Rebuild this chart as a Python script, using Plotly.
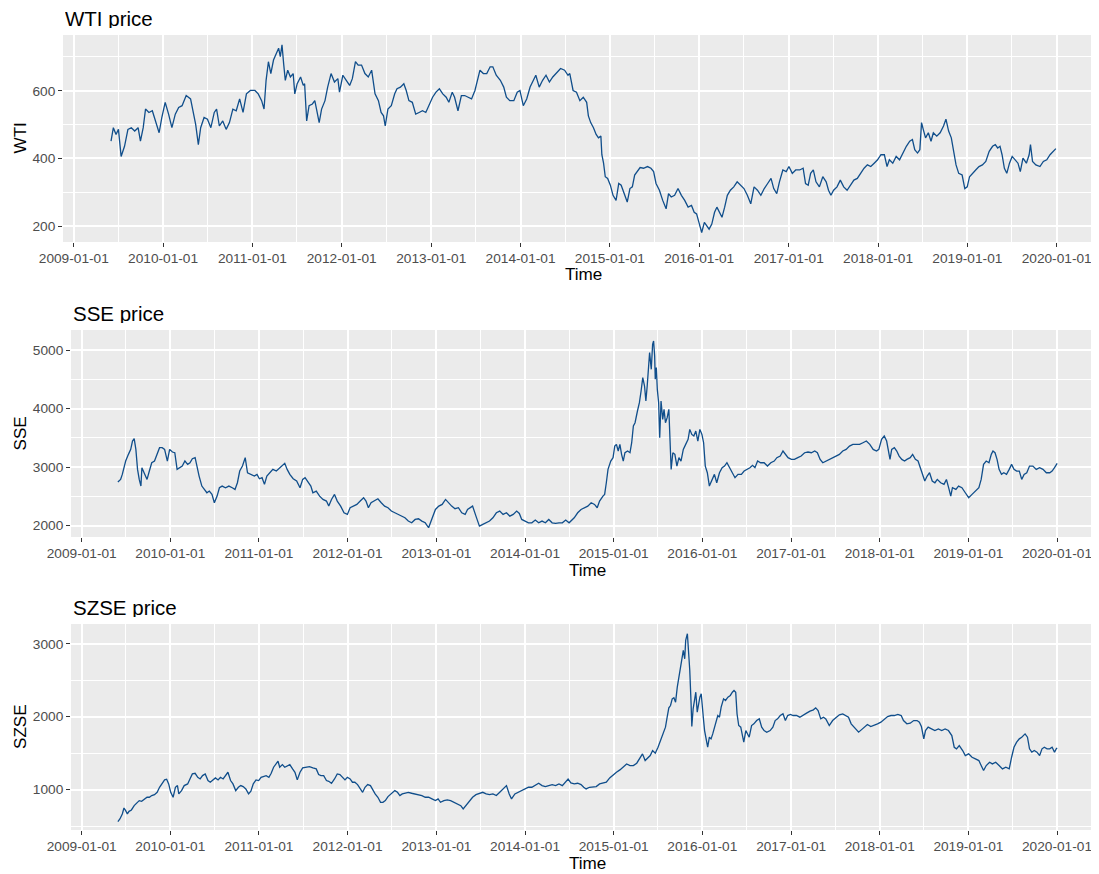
import numpy as np
import pandas as pd
import plotly.graph_objects as go

# ---- data (time in decimal years) ----
wti_t = [
    2009.417, 2009.443, 2009.473, 2009.500, 2009.530, 2009.568, 2009.606, 2009.644, 2009.682, 2009.720,
    2009.746, 2009.777, 2009.803, 2009.841, 2009.879, 2009.917, 2009.955, 2009.985, 2010.023, 2010.061,
    2010.098, 2010.136, 2010.174, 2010.212, 2010.258, 2010.307, 2010.345, 2010.364, 2010.394, 2010.420,
    2010.458, 2010.496, 2010.534, 2010.572, 2010.598, 2010.629, 2010.667, 2010.705, 2010.742, 2010.780,
    2010.818, 2010.856, 2010.894, 2010.932, 2010.977, 2011.027, 2011.064, 2011.102, 2011.129, 2011.152,
    2011.178, 2011.205, 2011.235, 2011.265, 2011.292, 2011.311, 2011.330, 2011.348, 2011.367, 2011.394,
    2011.424, 2011.455, 2011.473, 2011.500, 2011.538, 2011.568, 2011.583, 2011.606, 2011.633, 2011.670,
    2011.697, 2011.720, 2011.746, 2011.773, 2011.811, 2011.841, 2011.879, 2011.917, 2011.955, 2011.973,
    2012.011, 2012.049, 2012.087, 2012.117, 2012.152, 2012.182, 2012.220, 2012.258, 2012.295, 2012.333,
    2012.371, 2012.409, 2012.439, 2012.466, 2012.485, 2012.515, 2012.553, 2012.591, 2012.617, 2012.655,
    2012.693, 2012.720, 2012.750, 2012.788, 2012.826, 2012.864, 2012.902, 2012.939, 2012.977, 2013.015,
    2013.053, 2013.091, 2013.129, 2013.167, 2013.197, 2013.235, 2013.261, 2013.299, 2013.337, 2013.375,
    2013.413, 2013.451, 2013.489, 2013.515, 2013.545, 2013.583, 2013.621, 2013.659, 2013.689, 2013.727,
    2013.773, 2013.811, 2013.841, 2013.879, 2013.924, 2013.962, 2013.992, 2014.030, 2014.068, 2014.106,
    2014.144, 2014.170, 2014.208, 2014.246, 2014.284, 2014.322, 2014.360, 2014.398, 2014.447, 2014.492,
    2014.530, 2014.550, 2014.587, 2014.625, 2014.663, 2014.701, 2014.739, 2014.758, 2014.784, 2014.815,
    2014.845, 2014.871, 2014.898, 2014.909, 2014.928, 2014.947, 2014.974, 2015.004, 2015.034, 2015.068,
    2015.098, 2015.125, 2015.155, 2015.193, 2015.223, 2015.250, 2015.276, 2015.307, 2015.337, 2015.375,
    2015.420, 2015.458, 2015.488, 2015.515, 2015.553, 2015.590, 2015.628, 2015.655, 2015.685, 2015.723,
    2015.761, 2015.799, 2015.836, 2015.874, 2015.912, 2015.942, 2015.969, 2015.995, 2016.026, 2016.056,
    2016.083, 2016.109, 2016.139, 2016.170, 2016.196, 2016.223, 2016.253, 2016.283, 2016.313, 2016.347,
    2016.385, 2016.423, 2016.461, 2016.499, 2016.537, 2016.575, 2016.612, 2016.650, 2016.688, 2016.726,
    2016.764, 2016.802, 2016.832, 2016.866, 2016.896, 2016.934, 2016.972, 2017.002, 2017.040, 2017.078,
    2017.123, 2017.161, 2017.188, 2017.218, 2017.245, 2017.275, 2017.305, 2017.343, 2017.381, 2017.419,
    2017.445, 2017.472, 2017.502, 2017.540, 2017.577, 2017.615, 2017.653, 2017.691, 2017.729, 2017.767,
    2017.805, 2017.843, 2017.880, 2017.918, 2017.956, 2017.994, 2018.032, 2018.070, 2018.100, 2018.126,
    2018.164, 2018.202, 2018.240, 2018.278, 2018.316, 2018.354, 2018.384, 2018.410, 2018.441, 2018.467,
    2018.486, 2018.505, 2018.531, 2018.562, 2018.592, 2018.618, 2018.656, 2018.694, 2018.732, 2018.759,
    2018.789, 2018.819, 2018.846, 2018.872, 2018.902, 2018.940, 2018.970, 2018.997, 2019.023, 2019.054,
    2019.092, 2019.129, 2019.167, 2019.205, 2019.243, 2019.281, 2019.311, 2019.338, 2019.364, 2019.387,
    2019.413, 2019.440, 2019.470, 2019.500, 2019.538, 2019.565, 2019.591, 2019.621, 2019.659, 2019.690,
    2019.705, 2019.728, 2019.765, 2019.811, 2019.849, 2019.887, 2019.924, 2019.955, 2019.989,
]
wti_v = [
    451, 491, 471, 486, 406, 436, 486, 491, 481, 491,
    451, 491, 546, 536, 541, 511, 476, 521, 566, 531,
    491, 531, 551, 556, 586, 576, 526, 501, 441, 491,
    521, 516, 491, 536, 546, 496, 511, 486, 506, 546,
    541, 576, 536, 591, 601, 601, 591, 571, 546, 631,
    686, 651, 691, 711, 726, 701, 736, 681, 631, 661,
    641, 651, 591, 621, 641, 616, 621, 511, 556, 561,
    571, 541, 506, 546, 571, 611, 651, 626, 636, 596,
    646, 631, 616, 636, 686, 676, 676, 651, 641, 661,
    591, 571, 536, 526, 496, 546, 556, 591, 606, 611,
    621, 601, 571, 566, 531, 536, 541, 536, 561, 581,
    596, 606, 591, 581, 566, 596, 581, 541, 586, 586,
    581, 576, 601, 631, 661, 651, 651, 671, 671, 646,
    631, 611, 581, 571, 571, 596, 601, 556, 576, 611,
    631, 646, 611, 631, 646, 626, 641, 651, 666, 661,
    646, 651, 601, 596, 571, 581, 566, 526, 506, 491,
    471, 461, 466, 411, 386, 346, 341, 321, 291, 276,
    326, 321, 301, 271, 311, 316, 351, 361, 373, 371,
    376, 371, 361, 326, 306, 276, 251, 296, 286, 291,
    311, 291, 276, 256, 261, 241, 236, 211, 181, 211,
    201, 191, 206, 241, 256, 241, 226, 256, 291, 306,
    316, 331, 321, 311, 291, 266, 316, 306, 291, 311,
    326, 341, 311, 296, 331, 366, 361, 376, 356, 366,
    366, 371, 326, 321, 356, 366, 331, 316, 346, 331,
    306, 291, 306, 316, 336, 316, 306, 321, 336, 341,
    356, 371, 381, 376, 386, 396, 411, 411, 376, 396,
    386, 406, 396, 416, 436, 451, 456, 426, 416, 426,
    506, 486, 461, 476, 451, 476, 466, 476, 496, 516,
    481, 461, 416, 381, 356, 351, 311, 316, 346, 356,
    366, 376, 381, 391, 421, 436, 441, 431, 436, 411,
    371, 356, 386, 406, 396, 386, 361, 401, 386, 411,
    441, 391, 381, 376, 391, 396, 411, 421, 429,
]

sse_t = [
    2009.408, 2009.439, 2009.458, 2009.496, 2009.527, 2009.553, 2009.573, 2009.592, 2009.611, 2009.630,
    2009.649, 2009.668, 2009.679, 2009.706, 2009.737, 2009.763, 2009.790, 2009.821, 2009.851, 2009.878,
    2009.908, 2009.935, 2009.966, 2009.992, 2010.023, 2010.050, 2010.076, 2010.107, 2010.134, 2010.164,
    2010.195, 2010.221, 2010.248, 2010.279, 2010.298, 2010.324, 2010.355, 2010.385, 2010.412, 2010.439,
    2010.469, 2010.496, 2010.527, 2010.553, 2010.584, 2010.622, 2010.660, 2010.698, 2010.729, 2010.756,
    2010.782, 2010.813, 2010.844, 2010.870, 2010.908, 2010.947, 2010.977, 2011.004, 2011.034, 2011.061,
    2011.088, 2011.118, 2011.156, 2011.195, 2011.233, 2011.271, 2011.290, 2011.317, 2011.347, 2011.385,
    2011.424, 2011.462, 2011.492, 2011.519, 2011.557, 2011.584, 2011.607, 2011.645, 2011.683, 2011.721,
    2011.760, 2011.786, 2011.817, 2011.851, 2011.882, 2011.920, 2011.958, 2011.996, 2012.027, 2012.065,
    2012.103, 2012.141, 2012.179, 2012.206, 2012.233, 2012.263, 2012.302, 2012.340, 2012.378, 2012.416,
    2012.454, 2012.492, 2012.531, 2012.569, 2012.607, 2012.645, 2012.683, 2012.721, 2012.760, 2012.798,
    2012.836, 2012.874, 2012.912, 2012.950, 2012.989, 2013.027, 2013.065, 2013.103, 2013.134, 2013.172,
    2013.210, 2013.248, 2013.286, 2013.324, 2013.351, 2013.382, 2013.408, 2013.446, 2013.485, 2013.523,
    2013.561, 2013.599, 2013.637, 2013.676, 2013.714, 2013.752, 2013.790, 2013.828, 2013.866, 2013.905,
    2013.935, 2013.962, 2014.000, 2014.038, 2014.076, 2014.115, 2014.153, 2014.191, 2014.229, 2014.267,
    2014.305, 2014.344, 2014.382, 2014.420, 2014.458, 2014.496, 2014.554, 2014.593, 2014.631, 2014.669,
    2014.707, 2014.745, 2014.783, 2014.813, 2014.840, 2014.878, 2014.897, 2014.916, 2014.935, 2014.966,
    2014.992, 2015.011, 2015.030, 2015.050, 2015.069, 2015.088, 2015.107, 2015.126, 2015.156, 2015.183,
    2015.202, 2015.221, 2015.240, 2015.267, 2015.289, 2015.308, 2015.327, 2015.347, 2015.362, 2015.377,
    2015.392, 2015.404, 2015.423, 2015.438, 2015.449, 2015.461, 2015.468, 2015.480, 2015.491, 2015.506,
    2015.518, 2015.533, 2015.552, 2015.567, 2015.583, 2015.602, 2015.621, 2015.632, 2015.647, 2015.666,
    2015.689, 2015.712, 2015.735, 2015.758, 2015.784, 2015.811, 2015.838, 2015.857, 2015.880, 2015.903,
    2015.925, 2015.948, 2015.971, 2015.994, 2016.013, 2016.032, 2016.055, 2016.078, 2016.108, 2016.135,
    2016.161, 2016.192, 2016.222, 2016.249, 2016.276, 2016.306, 2016.337, 2016.367, 2016.401, 2016.439,
    2016.470, 2016.504, 2016.535, 2016.565, 2016.592, 2016.622, 2016.656, 2016.695, 2016.733, 2016.771,
    2016.809, 2016.839, 2016.877, 2016.908, 2016.935, 2016.965, 2017.003, 2017.037, 2017.075, 2017.113,
    2017.152, 2017.190, 2017.228, 2017.266, 2017.296, 2017.327, 2017.357, 2017.391, 2017.430, 2017.468,
    2017.506, 2017.544, 2017.582, 2017.620, 2017.658, 2017.696, 2017.734, 2017.772, 2017.810, 2017.848,
    2017.887, 2017.925, 2017.963, 2017.989, 2018.020, 2018.050, 2018.077, 2018.096, 2018.115, 2018.134,
    2018.164, 2018.191, 2018.218, 2018.248, 2018.279, 2018.305, 2018.343, 2018.370, 2018.401, 2018.431,
    2018.458, 2018.477, 2018.507, 2018.534, 2018.561, 2018.591, 2018.621, 2018.648, 2018.686, 2018.724,
    2018.751, 2018.781, 2018.800, 2018.819, 2018.858, 2018.888, 2018.926, 2018.964, 2019.002, 2019.040,
    2019.078, 2019.117, 2019.143, 2019.170, 2019.200, 2019.231, 2019.257, 2019.276, 2019.299, 2019.322,
    2019.345, 2019.372, 2019.398, 2019.429, 2019.459, 2019.486, 2019.513, 2019.543, 2019.573, 2019.600,
    2019.627, 2019.657, 2019.688, 2019.726, 2019.764, 2019.802, 2019.840, 2019.878, 2019.916, 2019.943,
    2019.970, 2020.000,
]
sse_v = [
    2744, 2789, 2875, 3103, 3217, 3302, 3445, 3485, 3302, 2960,
    2789, 2675, 2989, 2903, 2789, 2932, 3074, 3103, 3217, 3331,
    3331, 3302, 3103, 3302, 3257, 3245, 2960, 2989, 3017, 3103,
    3046, 3074, 3143, 3160, 3017, 2846, 2675, 2618, 2561, 2590,
    2533, 2390, 2504, 2647, 2675, 2647, 2675, 2647, 2618, 2732,
    2932, 3017, 3160, 2903, 2875, 2846, 2875, 2800, 2818, 2704,
    2846, 2903, 2960, 2932, 2989, 3046, 3063, 2960, 2875, 2800,
    2761, 2647, 2789, 2818, 2732, 2675, 2561, 2590, 2504, 2447,
    2419, 2333, 2447, 2533, 2419, 2333, 2219, 2191, 2305, 2333,
    2362, 2419, 2476, 2419, 2305, 2390, 2419, 2459, 2390, 2333,
    2305, 2248, 2219, 2191, 2162, 2134, 2077, 2048, 2105, 2117,
    2077, 2048, 1963, 2134, 2276, 2333, 2362, 2447, 2390, 2333,
    2288, 2305, 2219, 2191, 2276, 2305, 2333, 2162, 1991, 2020,
    2048, 2077, 2134, 2219, 2248, 2191, 2219, 2162, 2191, 2248,
    2208, 2105, 2077, 2048, 2048, 2094, 2048, 2077, 2048, 2105,
    2048, 2037, 2048, 2048, 2094, 2048, 2134, 2219, 2276, 2305,
    2333, 2390, 2362, 2305, 2419, 2504, 2533, 2732, 2960, 3103,
    3160, 3359, 3388, 3274, 3388, 3217, 3103, 3245, 3274, 3245,
    3416, 3701, 3758, 3958, 4100, 4300, 4528, 4385, 4129, 4385,
    4727, 4955, 4670, 5098, 5155, 4898, 4500, 4699, 4328, 4100,
    3502, 4129, 3815, 3986, 3758, 3844, 3986, 3530, 2960, 3245,
    3217, 3017, 3160, 3103, 3302, 3388, 3473, 3644, 3558, 3530,
    3616, 3445, 3644, 3558, 3416, 3017, 2903, 2675, 2789, 2875,
    2732, 2903, 2989, 3017, 3074, 2989, 2903, 2818, 2875, 2875,
    2932, 2960, 2989, 3029, 2989, 3103, 3074, 3074, 3017, 3074,
    3103, 3160, 3188, 3274, 3217, 3160, 3131, 3131, 3160, 3188,
    3245, 3257, 3245, 3274, 3245, 3131, 3074, 3103, 3131, 3160,
    3188, 3217, 3274, 3302, 3359, 3388, 3388, 3388, 3416, 3445,
    3388, 3302, 3274, 3302, 3473, 3530, 3445, 3274, 3131, 3302,
    3331, 3274, 3188, 3131, 3103, 3131, 3160, 3217, 3131, 3103,
    2989, 2875, 2761, 2846, 2903, 2761, 2732, 2789, 2732, 2704,
    2789, 2618, 2504, 2647, 2618, 2675, 2647, 2561, 2476, 2533,
    2590, 2647, 2789, 3046, 3103, 3074, 3217, 3274, 3245, 3131,
    2960, 2875, 2903, 2875, 2960, 3046, 2960, 2932, 2932, 2789,
    2875, 2903, 3017, 3017, 2960, 2989, 2960, 2903, 2903, 2932,
    2989, 3063,
]

szse_t = [
    2009.408, 2009.431, 2009.458, 2009.477, 2009.496, 2009.515, 2009.534, 2009.561, 2009.592, 2009.622,
    2009.649, 2009.676, 2009.706, 2009.737, 2009.763, 2009.790, 2009.821, 2009.851, 2009.878, 2009.905,
    2009.935, 2009.958, 2009.981, 2010.004, 2010.031, 2010.057, 2010.080, 2010.095, 2010.126, 2010.156,
    2010.195, 2010.221, 2010.248, 2010.279, 2010.309, 2010.336, 2010.363, 2010.393, 2010.424, 2010.450,
    2010.477, 2010.508, 2010.538, 2010.565, 2010.595, 2010.622, 2010.649, 2010.679, 2010.706, 2010.737,
    2010.767, 2010.794, 2010.821, 2010.851, 2010.882, 2010.908, 2010.935, 2010.966, 2010.996, 2011.023,
    2011.050, 2011.080, 2011.111, 2011.137, 2011.164, 2011.195, 2011.214, 2011.233, 2011.263, 2011.290,
    2011.317, 2011.347, 2011.378, 2011.405, 2011.431, 2011.462, 2011.492, 2011.531, 2011.569, 2011.607,
    2011.645, 2011.672, 2011.698, 2011.729, 2011.760, 2011.786, 2011.817, 2011.851, 2011.882, 2011.912,
    2011.939, 2011.969, 2011.996, 2012.027, 2012.053, 2012.080, 2012.111, 2012.141, 2012.168, 2012.195,
    2012.225, 2012.256, 2012.282, 2012.309, 2012.340, 2012.370, 2012.397, 2012.424, 2012.454, 2012.492,
    2012.531, 2012.561, 2012.588, 2012.615, 2012.645, 2012.683, 2012.721, 2012.760, 2012.798, 2012.836,
    2012.874, 2012.912, 2012.950, 2012.989, 2013.019, 2013.046, 2013.084, 2013.122, 2013.160, 2013.198,
    2013.237, 2013.275, 2013.302, 2013.332, 2013.370, 2013.408, 2013.446, 2013.485, 2013.523, 2013.561,
    2013.599, 2013.637, 2013.676, 2013.714, 2013.752, 2013.790, 2013.821, 2013.847, 2013.885, 2013.924,
    2013.962, 2014.000, 2014.038, 2014.076, 2014.115, 2014.153, 2014.191, 2014.229, 2014.267, 2014.305,
    2014.344, 2014.382, 2014.420, 2014.458, 2014.485, 2014.516, 2014.554, 2014.593, 2014.631, 2014.661,
    2014.688, 2014.726, 2014.764, 2014.802, 2014.840, 2014.878, 2014.916, 2014.954, 2014.992, 2015.030,
    2015.069, 2015.107, 2015.145, 2015.183, 2015.221, 2015.259, 2015.297, 2015.324, 2015.354, 2015.385,
    2015.411, 2015.438, 2015.468, 2015.499, 2015.526, 2015.552, 2015.583, 2015.602, 2015.621, 2015.640,
    2015.659, 2015.678, 2015.697, 2015.716, 2015.735, 2015.754, 2015.773, 2015.784, 2015.800, 2015.811,
    2015.830, 2015.842, 2015.849, 2015.857, 2015.872, 2015.880, 2015.895, 2015.910, 2015.925, 2015.941,
    2015.956, 2015.971, 2015.986, 2016.002, 2016.013, 2016.024, 2016.040, 2016.059, 2016.078, 2016.097,
    2016.116, 2016.135, 2016.154, 2016.173, 2016.192, 2016.211, 2016.238, 2016.260, 2016.287, 2016.314,
    2016.337, 2016.356, 2016.375, 2016.390, 2016.409, 2016.432, 2016.451, 2016.466, 2016.489, 2016.508,
    2016.527, 2016.554, 2016.580, 2016.611, 2016.641, 2016.668, 2016.695, 2016.725, 2016.763, 2016.794,
    2016.820, 2016.847, 2016.877, 2016.908, 2016.935, 2016.961, 2016.992, 2017.022, 2017.060, 2017.098,
    2017.136, 2017.174, 2017.213, 2017.251, 2017.277, 2017.304, 2017.334, 2017.365, 2017.391, 2017.430,
    2017.468, 2017.506, 2017.544, 2017.582, 2017.620, 2017.647, 2017.677, 2017.708, 2017.734, 2017.761,
    2017.791, 2017.822, 2017.860, 2017.898, 2017.936, 2017.974, 2018.012, 2018.050, 2018.088, 2018.126,
    2018.164, 2018.203, 2018.241, 2018.267, 2018.305, 2018.343, 2018.382, 2018.420, 2018.446, 2018.469,
    2018.496, 2018.515, 2018.545, 2018.583, 2018.621, 2018.660, 2018.698, 2018.736, 2018.774, 2018.812,
    2018.839, 2018.865, 2018.896, 2018.934, 2018.964, 2019.002, 2019.040, 2019.078, 2019.117, 2019.143,
    2019.170, 2019.200, 2019.238, 2019.269, 2019.307, 2019.345, 2019.383, 2019.421, 2019.459, 2019.486,
    2019.513, 2019.543, 2019.573, 2019.600, 2019.638, 2019.665, 2019.688, 2019.714, 2019.741, 2019.772,
    2019.802, 2019.829, 2019.855, 2019.886, 2019.916, 2019.943, 2019.970, 2019.989, 2020.000,
]
szse_v = [
    561, 597, 666, 748, 712, 666, 702, 721, 780, 812,
    849, 840, 872, 895, 895, 918, 931, 963, 1032, 1078,
    1133, 1142, 1078, 963, 895, 1032, 1055, 941, 986, 1055,
    1078, 1146, 1215, 1224, 1169, 1146, 1192, 1215, 1124, 1101,
    1124, 1160, 1133, 1169, 1146, 1192, 1238, 1124, 1078, 986,
    1032, 1055, 1041, 1009, 941, 977, 1078, 1133, 1124, 1169,
    1178, 1192, 1169, 1224, 1307, 1352, 1389, 1307, 1343, 1307,
    1330, 1343, 1284, 1238, 1133, 1238, 1297, 1307, 1316, 1297,
    1284, 1206, 1192, 1192, 1124, 1114, 1087, 1146, 1215, 1206,
    1169, 1133, 1169, 1146, 1101, 1101, 1069, 1009, 963, 1032,
    1069, 1055, 995, 941, 895, 826, 826, 849, 904, 950,
    986, 963, 918, 941, 950, 963, 950, 941, 931, 918,
    895, 895, 872, 849, 872, 826, 849, 858, 849, 826,
    812, 780, 735, 780, 826, 895, 931, 950, 963, 941,
    931, 941, 918, 963, 1009, 1055, 941, 872, 941, 963,
    986, 1009, 1032, 1032, 1055, 1087, 1055, 1041, 1055, 1069,
    1055, 1078, 1055, 1101, 1146, 1092, 1078, 1087, 1069, 1032,
    1009, 1032, 1032, 1041, 1078, 1092, 1101, 1160, 1206, 1238,
    1270, 1307, 1352, 1330, 1330, 1362, 1444, 1490, 1398, 1444,
    1467, 1536, 1499, 1581, 1673, 1741, 1856, 1993, 2121, 2153,
    2245, 2259, 2199, 2405, 2565, 2680, 2817, 2909, 2794, 3046,
    3137, 2954, 2748, 2634, 2176, 1865, 2108, 2199, 2336, 2062,
    2176, 2268, 2313, 2039, 1947, 1810, 1696, 1581, 1719, 1696,
    1764, 1856, 1947, 2016, 1993, 2131, 2245, 2222, 2268, 2291,
    2336, 2359, 2336, 2039, 1879, 1856, 1741, 1650, 1810, 1764,
    1719, 1879, 1902, 1947, 1970, 1856, 1810, 1787, 1810, 1856,
    1947, 1970, 2016, 2039, 1947, 2016, 2030, 2016, 2016, 1993,
    2016, 2048, 2076, 2094, 2121, 2085, 1970, 1993, 1970, 1879,
    1947, 1993, 2025, 2039, 2016, 1993, 1902, 1856, 1833, 1787,
    1819, 1856, 1893, 1865, 1879, 1902, 1925, 1970, 2002, 2016,
    2016, 2030, 2016, 1947, 1902, 1911, 1947, 1947, 1925, 1865,
    1696, 1810, 1856, 1833, 1810, 1833, 1810, 1833, 1810, 1741,
    1581, 1559, 1604, 1536, 1467, 1490, 1444, 1421, 1398, 1330,
    1261, 1330, 1375, 1352, 1375, 1330, 1284, 1307, 1284, 1444,
    1581, 1650, 1696, 1719, 1764, 1719, 1559, 1513, 1536, 1513,
    1467, 1559, 1581, 1559, 1559, 1581, 1513, 1559, 1572,
]

year_ticks = [f"{y}-01-01" for y in range(2009, 2021)]
mid_year = [f"{y}-07-02" for y in range(2009, 2020)]
x_range = ["2008-11-18", "2020-06-22"]


def to_dates(ts):
    ts = np.asarray(ts, dtype=float)
    return pd.Timestamp("2009-01-01") + pd.to_timedelta((ts - 2009) * 365.25, unit="D")


# the page keeps its 8px body margin; figure runs to the window's right/bottom edge
W, H = 1091, 866


def fx(px):
    return (px - 8) / W


def fy(py):
    return 1 - (py - 8) / H


LINE = "#104E8B"
FONT = "Liberation Sans, Arial, sans-serif"

panels = [
    # name, t, v, left, top, bottom, y range, y ticks, y minor
    ("WTI", wti_t, wti_v, 63, 35, 242, [153, 765], [200, 400, 600], [300, 500, 700]),
    ("SSE", sse_t, sse_v, 71, 330, 537, [1805, 5342], [2000, 3000, 4000, 5000], [2500, 3500, 4500]),
    ("SZSE", szse_t, szse_v, 71, 624, 830, [446, 3271], [1000, 2000, 3000], [500, 1500, 2500]),
]

fig = go.Figure()
annotations = []
layout = {}

for i, (name, t, v, left, top, bottom, yr, ytk, ymin) in enumerate(panels, start=1):
    sfx = "" if i == 1 else str(i)
    fig.add_trace(
        go.Scatter(
            x=to_dates(t),
            y=v,
            mode="lines",
            line=dict(color=LINE, width=1.3),
            xaxis="x" + sfx,
            yaxis="y" + sfx,
            showlegend=False,
        )
    )
    layout["xaxis" + sfx] = dict(
        domain=[fx(left), 1],
        anchor="y" + sfx,
        type="date",
        range=x_range,
        tickmode="array",
        tickvals=year_ticks,
        ticktext=year_ticks,
        ticks="outside",
        ticklen=4,
        tickwidth=1,
        tickcolor="#333333",
        tickfont=dict(size=13.7, color="#4D4D4D", family=FONT),
        ticklabeloverflow="allow",
        showgrid=True,
        gridcolor="white",
        gridwidth=1.6,
        minor=dict(tickvals=mid_year, showgrid=True, gridcolor="white", gridwidth=0.8, ticklen=0),
        zeroline=False,
        showline=False,
        automargin=False,
        fixedrange=True,
    )
    layout["yaxis" + sfx] = dict(
        domain=[fy(bottom), fy(top)],
        anchor="x" + sfx,
        range=yr,
        tickmode="array",
        tickvals=ytk,
        ticks="outside",
        ticklen=4,
        tickwidth=1,
        tickcolor="#333333",
        tickfont=dict(size=13.7, color="#4D4D4D", family=FONT),
        showgrid=True,
        gridcolor="white",
        gridwidth=1.6,
        minor=dict(tickvals=ymin, showgrid=True, gridcolor="white", gridwidth=0.8, ticklen=0),
        zeroline=False,
        showline=False,
        automargin=False,
        fixedrange=True,
    )
    # panel title (fixed box height keeps the top one inside the figure)
    annotations.append(dict(
        text=f"{name} price", x=fx(left), y=fy(top - 17), xref="paper", yref="paper",
        xanchor="left", yanchor="middle", height=20, valign="middle", showarrow=False,
        font=dict(size=20.5, color="black", family=FONT),
    ))
    # x axis title
    annotations.append(dict(
        text="Time", x=fx((left + 1104) / 2), y=fy(bottom + 33), xref="paper", yref="paper",
        xanchor="center", yanchor="middle", showarrow=False,
        font=dict(size=17.1, color="black", family=FONT),
    ))
    # y axis title
    annotations.append(dict(
        text=name, x=fx(20), y=fy((top + bottom) / 2), xref="paper", yref="paper",
        xanchor="center", yanchor="middle", showarrow=False, textangle=-90,
        font=dict(size=17.1, color="black", family=FONT),
    ))

fig.update_layout(
    **layout,
    annotations=annotations,
    width=W,
    height=H,
    margin=dict(l=0, r=0, t=0, b=0),
    paper_bgcolor="white",
    plot_bgcolor="#EBEBEB",
    showlegend=False,
    font=dict(family=FONT),
)

fig.write_html("out.html")
